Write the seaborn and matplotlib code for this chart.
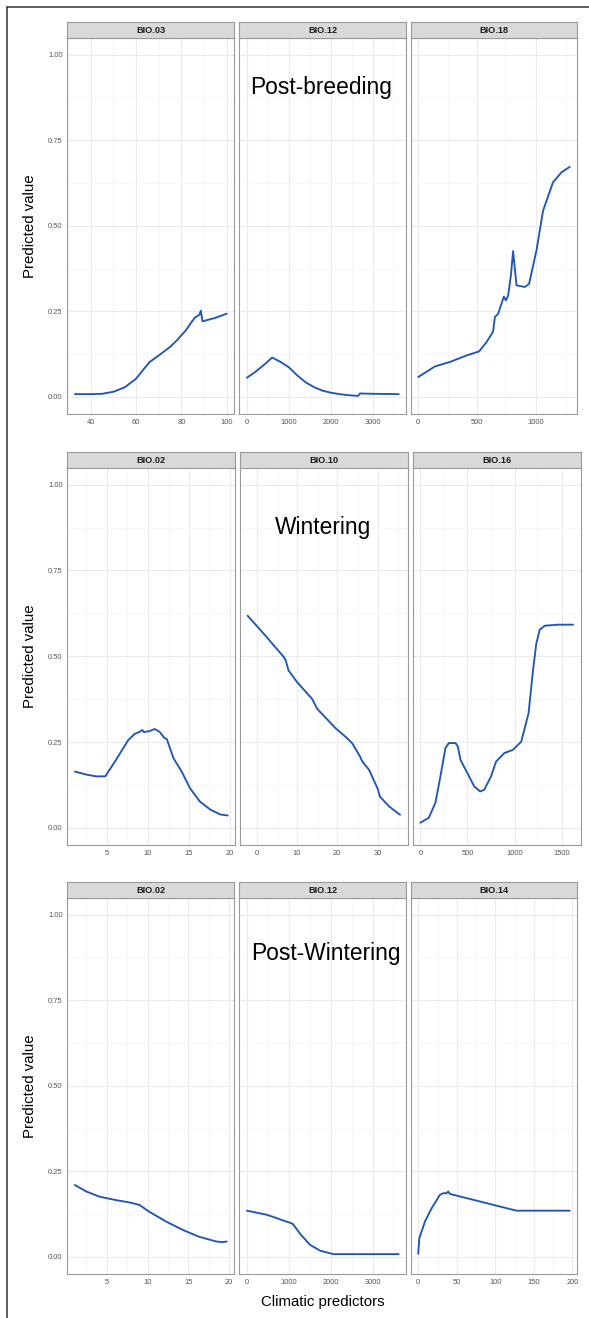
import matplotlib
matplotlib.use('Agg')
import pandas as pd
import matplotlib.pyplot as plt
from matplotlib.ticker import MultipleLocator
from matplotlib.lines import Line2D
import seaborn as sns

# values

seasons = ['Post-breeding', 'Wintering', 'Post-Wintering']
predictors = [['BIO.03', 'BIO.12', 'BIO.18'],
              ['BIO.02', 'BIO.10', 'BIO.16'],
              ['BIO.02', 'BIO.12', 'BIO.14']]

# Post-breeding
pb_bio03_x = [33, 40, 45, 50, 55, 60, 63, 66, 70, 75, 78, 80, 82, 84, 86, 88, 88.6, 89.3, 90, 95, 100]
pb_bio03_y = [0.008, 0.008, 0.009, 0.015, 0.028, 0.053, 0.078, 0.102, 0.121, 0.146, 0.165, 0.180,
              0.195, 0.214, 0.232, 0.240, 0.252, 0.221, 0.222, 0.231, 0.243]
pb_bio12_x = [0, 200, 400, 600, 800, 1000, 1200, 1400, 1600, 1800, 2000, 2200, 2400, 2640, 2680, 3000, 3600]
pb_bio12_y = [0.056, 0.073, 0.093, 0.115, 0.102, 0.086, 0.062, 0.042, 0.028, 0.018, 0.012, 0.008,
              0.005, 0.003, 0.010, 0.009, 0.008]
pb_bio18_x = [0, 142, 269, 411, 518, 581, 637, 652, 680, 728, 745, 765, 790, 807, 836, 907, 943,
              1006, 1062, 1147, 1218, 1289]
pb_bio18_y = [0.058, 0.089, 0.102, 0.121, 0.133, 0.160, 0.191, 0.233, 0.243, 0.293, 0.282, 0.296,
              0.360, 0.426, 0.326, 0.321, 0.330, 0.428, 0.544, 0.627, 0.656, 0.672]

# Wintering
w_bio02_x = [1.1, 2.5, 3.7, 4.8, 6.1, 7.6, 8.4, 9.0, 9.3, 9.5, 10.2, 10.8, 11.4, 12.0, 12.3, 13.1,
             14.1, 15.1, 16.3, 17.6, 18.8, 19.7]
w_bio02_y = [0.164, 0.155, 0.150, 0.150, 0.198, 0.256, 0.274, 0.280, 0.285, 0.279, 0.282, 0.288,
             0.280, 0.262, 0.258, 0.203, 0.164, 0.116, 0.077, 0.053, 0.039, 0.036]
w_bio10_x = [-2.25, 2.1, 6.7, 7.2, 7.9, 10.0, 13.75, 15.0, 19.6, 22.1, 23.75, 25.6, 26.25, 27.9,
             30.0, 30.6, 32.9, 35.6]
w_bio10_y = [0.618, 0.561, 0.498, 0.488, 0.459, 0.425, 0.376, 0.347, 0.290, 0.265, 0.246, 0.209,
             0.193, 0.169, 0.115, 0.091, 0.062, 0.038]
w_bio16_x = [0, 89, 160, 213, 266, 302, 373, 398, 426, 500, 571, 635, 678, 750, 803, 892, 981,
             1070, 1148, 1195, 1230, 1266, 1319, 1461, 1620]
w_bio16_y = [0.015, 0.029, 0.073, 0.150, 0.232, 0.247, 0.247, 0.237, 0.198, 0.159, 0.121, 0.106,
             0.111, 0.150, 0.193, 0.218, 0.227, 0.251, 0.334, 0.459, 0.537, 0.577, 0.589, 0.592, 0.592]

# Post-Wintering
pw_bio02_x = [1.1, 2.5, 4.1, 6.1, 7.8, 9.0, 10.2, 12.3, 14.3, 16.3, 18.4, 19.2, 19.7]
pw_bio02_y = [0.210, 0.191, 0.176, 0.166, 0.159, 0.152, 0.132, 0.103, 0.079, 0.059, 0.045, 0.043, 0.045]
pw_bio12_x = [0, 476, 1080, 1110, 1270, 1500, 1740, 2055, 2600, 3600]
pw_bio12_y = [0.135, 0.123, 0.097, 0.093, 0.066, 0.035, 0.018, 0.008, 0.008, 0.008]
pw_bio14_x = [0, 1.3, 8.6, 17.3, 28, 32.4, 36.7, 38.9, 41, 127.4, 196.6]
pw_bio14_y = [0.009, 0.054, 0.103, 0.142, 0.181, 0.186, 0.186, 0.191, 0.184, 0.135, 0.135]

curves = [[(pb_bio03_x, pb_bio03_y), (pb_bio12_x, pb_bio12_y), (pb_bio18_x, pb_bio18_y)],
          [(w_bio02_x, w_bio02_y), (w_bio10_x, w_bio10_y), (w_bio16_x, w_bio16_y)],
          [(pw_bio02_x, pw_bio02_y), (pw_bio12_x, pw_bio12_y), (pw_bio14_x, pw_bio14_y)]]

# x tick step per panel
x_steps = [[20, 1000, 500], [5, 10, 500], [5, 1000, 50]]
y_ticks = [0, 0.25, 0.5, 0.75, 1.0]

sns.set_theme(style='white')
plt.rcParams['font.family'] = ['Liberation Sans', 'DejaVu Sans']

W, H = 589, 1318
fig = plt.figure(figsize=(W / 100, H / 100), dpi=100)
fig.patch.set_facecolor('white')

# pixel layout: (strip top, panel top, panel bottom) per row and panel columns per row
rows_px = [(22, 37.5, 414), (452, 467.5, 845), (882, 897.5, 1274)]
cols_px = [[(67.3, 234.3), (239.3, 406.3), (410.7, 577.3)],
           [(67.3, 235.3), (240.0, 407.7), (412.7, 580.7)],
           [(67.3, 234.3), (239.3, 406.3), (410.7, 577.3)]]

# overlay season titles (left x, baseline y) in pixels
title_px = [(250.5, 94), (275, 534), (251.5, 960)]

line_col = '#2156B6'
border_col = '#9A9A9A'


def px_box(x0, x1, y0, y1):
    return [x0 / W, 1 - y1 / H, (x1 - x0) / W, (y1 - y0) / H]


for r in range(3):
    s_top, p_top, p_bot = rows_px[r]
    for c in range(3):
        x0, x1 = cols_px[r][c]
        ax = fig.add_axes(px_box(x0, x1, p_top, p_bot))
        xs, ys = curves[r][c]
        df = pd.DataFrame({'x': xs, 'y': ys})
        sns.lineplot(data=df, x='x', y='y', ax=ax, color=line_col, linewidth=1.35)

        ax.margins(x=0.05)
        ax.set_ylim(-0.05, 1.05)
        ax.xaxis.set_major_locator(MultipleLocator(x_steps[r][c]))
        ax.xaxis.set_minor_locator(MultipleLocator(x_steps[r][c] / 2))
        ax.set_yticks(y_ticks)
        ax.yaxis.set_minor_locator(MultipleLocator(0.125))
        ax.grid(which='major', color='#EBEBEB', linewidth=0.8)
        ax.grid(which='minor', color='#F3F3F3', linewidth=0.45)
        ax.set_axisbelow(True)
        ax.set_xlabel('')
        ax.set_ylabel('')
        for sp in ax.spines.values():
            sp.set_color(border_col)
            sp.set_linewidth(0.8)
        ax.tick_params(which='major', length=1.8, width=0.6, color='#444444',
                       labelsize=5.4, labelcolor='#555555', pad=1.5)
        ax.tick_params(which='minor', length=0)
        ax.set_yticklabels(['0.00', '0.25', '0.50', '0.75', '1.00'])
        if c > 0:
            ax.tick_params(axis='y', which='major', length=0, labelleft=False)

        # facet strip
        sax = fig.add_axes(px_box(x0, x1, s_top, p_top))
        sax.set_facecolor('#D9D9D9')
        sax.set_xticks([])
        sax.set_yticks([])
        for sp in sax.spines.values():
            sp.set_color(border_col)
            sp.set_linewidth(0.8)
        sax.text(0.5, 0.45, predictors[r][c], ha='center', va='center',
                 fontsize=6.6, fontweight='bold', color='#1A1A1A', transform=sax.transAxes)

    # row y label and season title
    fig.text(30 / W, 1 - ((p_top + p_bot) / 2) / H, 'Predicted value', rotation=90,
             ha='center', va='center', fontsize=10.8, color='black')
    tx, ty = title_px[r]
    fig.text(tx / W, 1 - ty / H, seasons[r], ha='left', va='baseline', fontsize=16.4, color='black')

fig.text(323 / W, 1 - 1302 / H, 'Climatic predictors', ha='center', va='center',
         fontsize=10.8, color='black')

# outer frame (top and left edges)
fig.add_artist(Line2D([7 / W, 1], [1 - 7 / H, 1 - 7 / H], transform=fig.transFigure,
                      color='#333333', linewidth=1.1))
fig.add_artist(Line2D([7 / W, 7 / W], [0, 1 - 7 / H], transform=fig.transFigure,
                      color='#333333', linewidth=1.1))

fig.savefig('out.png', dpi=100, facecolor='white')
